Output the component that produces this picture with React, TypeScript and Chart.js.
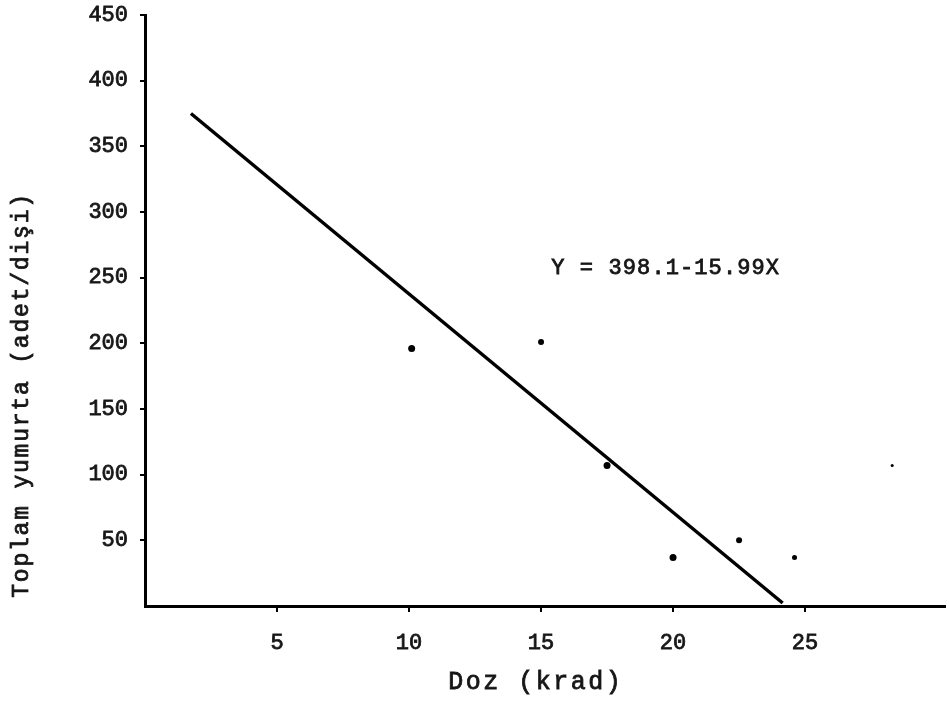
import React, { useEffect, useRef } from "react";
import { Chart, registerables } from "chart.js";

Chart.register(...registerables);

// Observed data points (dose in krad, total eggs per female)
const doseValues = [10.1, 15.0, 17.5, 20.0, 22.5, 24.6, 28.3];
const eggValues = [196, 201, 107, 37, 50, 37, 107];
const pointSizes = [3.5, 3, 3.5, 3.5, 3, 2.5, 1.5];

// Regression line endpoints as drawn
const lineDose = [1.74, 24.15];
const lineEggs = [375, 2.3];

// Axis ticks
const xTickValues = [5, 10, 15, 20, 25];
const yTickValues = [50, 100, 150, 200, 250, 300, 350, 400, 450];

const xTitle = "Doz (krad)";
const yTitle = "Toplam yumurta (adet/dişi)";
const equationText = "Y = 398.1-15.99X";
const equationDose = 19.7;
const equationEggs = 257;

const FONT = "'Liberation Mono', 'DejaVu Sans Mono', monospace";
const INK = "#161616";

function drawSpaced(ctx: any, text: string, x: number, y: number, spacing: number) {
  // draw text centred at (x, y) with extra letter spacing, slightly inked
  let total = 0;
  const widths: number[] = [];
  for (const ch of text) {
    const w = ctx.measureText(ch).width;
    widths.push(w);
    total += w;
  }
  total += spacing * (text.length - 1);
  let cx = x - total / 2;
  let i = 0;
  for (const ch of text) {
    ctx.fillText(ch, cx, y);
    ctx.strokeText(ch, cx, y);
    cx += widths[i] + spacing;
    i++;
  }
}

export default function App() {
  const ref = useRef<HTMLCanvasElement | null>(null);

  useEffect(() => {
    if (!ref.current) return;
    const textPlugin = {
      id: "texts",
      afterDraw(chart: any) {
        const ctx = chart.ctx;
        const xs = chart.scales.x;
        const ys = chart.scales.y;
        ctx.save();
        ctx.fillStyle = INK;
        ctx.strokeStyle = INK;
        ctx.lineWidth = 0.8;
        ctx.textAlign = "left";
        ctx.textBaseline = "middle";
        // equation annotation
        ctx.font = `22px ${FONT}`;
        drawSpaced(ctx, equationText, xs.getPixelForValue(equationDose), ys.getPixelForValue(equationEggs), 1.1);
        // x-axis title
        ctx.font = `25px ${FONT}`;
        drawSpaced(ctx, xTitle, xs.getPixelForValue(14.75), chart.height - 19, 2.5);
        // y-axis title
        ctx.translate(22, ys.getPixelForValue(160));
        ctx.rotate(-Math.PI / 2);
        ctx.font = `23px ${FONT}`;
        drawSpaced(ctx, yTitle, 0, 0, 1.8);
        ctx.restore();
      },
    };
    const tickStyle = {
      color: INK,
      font: { family: FONT, size: 22 },
      textStrokeColor: INK,
      textStrokeWidth: 0.8,
      autoSkip: false,
    };
    const chart = new Chart(ref.current, {
      type: "scatter",
      data: {
        datasets: [
          {
            type: "line",
            data: lineDose.map((d, i) => ({ x: d, y: lineEggs[i] })),
            borderColor: "#000",
            borderWidth: 3.5,
            pointRadius: 0,
            fill: false,
          } as any,
          {
            type: "scatter",
            data: doseValues.map((d, i) => ({ x: d, y: eggValues[i] })),
            backgroundColor: "#000",
            borderColor: "#000",
            pointRadius: pointSizes,
            borderWidth: 0,
          },
        ],
      },
      options: {
        responsive: false,
        animation: false,
        devicePixelRatio: 1,
        layout: { padding: { left: 0, right: 0, top: 15, bottom: 0 } },
        plugins: {
          legend: { display: false },
          tooltip: { enabled: false },
        },
        scales: {
          x: {
            type: "linear",
            min: 0,
            max: 30.3,
            afterBuildTicks: (scale: any) => {
              scale.ticks = xTickValues.map((v) => ({ value: v }));
            },
            afterFit: (scale: any) => {
              scale.height = 95;
              scale.paddingLeft = 0;
              scale.paddingRight = 0;
            },
            grid: {
              display: true,
              drawOnChartArea: false,
              drawTicks: true,
              tickLength: 6,
              color: "#000",
              lineWidth: 2,
            },
            border: { display: true, color: "#000", width: 3 },
            ticks: { ...tickStyle, padding: 18, maxRotation: 0 },
            title: { display: false },
          },
          y: {
            type: "linear",
            min: 0,
            max: 450,
            afterBuildTicks: (scale: any) => {
              scale.ticks = yTickValues.map((v) => ({ value: v }));
            },
            afterFit: (scale: any) => {
              scale.width = 145;
              scale.paddingTop = 0;
              scale.paddingBottom = 0;
            },
            grid: {
              display: true,
              drawOnChartArea: false,
              drawTicks: true,
              tickLength: 5,
              color: "#000",
              lineWidth: 2,
            },
            border: { display: true, color: "#000", width: 3 },
            ticks: { ...tickStyle, padding: 12 },
            title: { display: false },
          },
        },
      },
      plugins: [textPlugin],
    });
    return () => chart.destroy();
  }, []);

  return (
    <div
      style={{
        position: "fixed",
        left: 0,
        top: 0,
        width: 949,
        height: 701,
        background: "#fff",
      }}
    >
      <canvas ref={ref} width={949} height={701} style={{ width: 949, height: 701 }} />
    </div>
  );
}
